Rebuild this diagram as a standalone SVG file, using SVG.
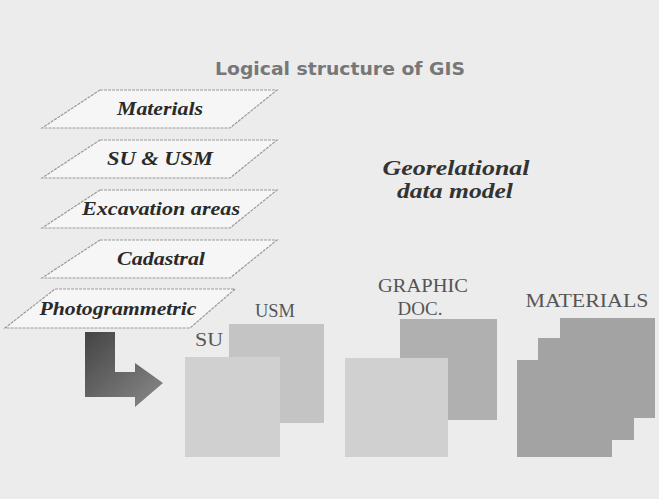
<svg xmlns="http://www.w3.org/2000/svg" width="659" height="499" viewBox="0 0 659 499">
<style>
.layer{fill:#f6f6f6;stroke:#9a9a9a;stroke-width:1.2;stroke-dasharray:3 1}
.lt{font-family:"Liberation Serif",serif;font-style:italic;font-weight:bold;font-size:18px;fill:#2a2a2a;text-anchor:middle}
.cap{font-family:"Liberation Serif",serif;font-size:19px;fill:#555;text-anchor:middle}
.geo{font-family:"Liberation Serif",serif;font-style:italic;font-weight:bold;font-size:22px;fill:#333;text-anchor:middle}
.title{font-family:"Comic Sans MS","DejaVu Sans",sans-serif;font-size:17px;font-weight:bold;fill:#777;text-anchor:middle}
.light{fill:#d0d0d0}
.mid{fill:#c4c4c4}
.dark{fill:#b0b0b0}
.darker{fill:#a3a3a3}
</style>
<defs>
<linearGradient id="ag" x1="0" y1="0" x2="1" y2="1">
<stop offset="0" stop-color="#444"/>
<stop offset="1" stop-color="#8a8a8a"/>
</linearGradient>
</defs>
<rect width="659" height="499" fill="#ececec"/>
<text class="title" x="340" y="75" textLength="250" lengthAdjust="spacingAndGlyphs">Logical structure of GIS</text>

<g id="layer-materials"><polygon class="layer" points="100,90 277,90 230,128 42,128"/><text class="lt" x="160" y="115" textLength="86" lengthAdjust="spacingAndGlyphs">Materials</text></g>
<g id="layer-su-usm"><polygon class="layer" points="100,140 277,140 230,178 42,178"/><text class="lt" x="160" y="165" textLength="106" lengthAdjust="spacingAndGlyphs">SU &amp; USM</text></g>
<g id="layer-excavation"><polygon class="layer" points="100,190 277,190 230,228 42,228"/><text class="lt" x="161" y="215" textLength="158" lengthAdjust="spacingAndGlyphs">Excavation areas</text></g>
<g id="layer-cadastral"><polygon class="layer" points="100,240 277,240 230,278 42,278"/><text class="lt" x="161" y="265" textLength="88" lengthAdjust="spacingAndGlyphs">Cadastral</text></g>
<g id="layer-photogrammetric"><polygon class="layer" points="55,289 235,289 190,328 5,328"/><text class="lt" x="118" y="315" textLength="157" lengthAdjust="spacingAndGlyphs">Photogrammetric</text></g>

<g id="georelational"><text class="geo" x="456" y="175" textLength="147" lengthAdjust="spacingAndGlyphs">Georelational</text><text class="geo" x="455" y="198" textLength="116" lengthAdjust="spacingAndGlyphs">data model</text></g>

<g id="arrow"><path d="M85,332 H115 V372 H135 V363 L163,383 L135,407 V397 H85 Z" fill="url(#ag)"/></g>

<g id="usm-su">
<text class="cap" x="275" y="317" textLength="40" lengthAdjust="spacingAndGlyphs">USM</text>
<rect class="mid" x="229" y="324" width="95" height="99"/>
<text class="cap" x="209" y="346" textLength="28" lengthAdjust="spacingAndGlyphs">SU</text>
<rect class="light" x="185" y="357" width="95" height="100"/>
</g>

<g id="graphic-doc">
<text class="cap" x="423" y="292" textLength="90" lengthAdjust="spacingAndGlyphs">GRAPHIC</text>
<text class="cap" x="420" y="315">DOC.</text>
<rect class="dark" x="400" y="319" width="97" height="101"/>
<rect class="light" x="345" y="358" width="103" height="99"/>
</g>

<g id="materials">
<text class="cap" x="587" y="307" textLength="123" lengthAdjust="spacingAndGlyphs" fill="#444">MATERIALS</text>
<rect class="darker" x="560" y="318" width="95" height="100"/>
<rect class="darker" x="538" y="338" width="96" height="102"/>
<rect class="darker" x="517" y="360" width="95" height="97"/>
</g>
</svg>
